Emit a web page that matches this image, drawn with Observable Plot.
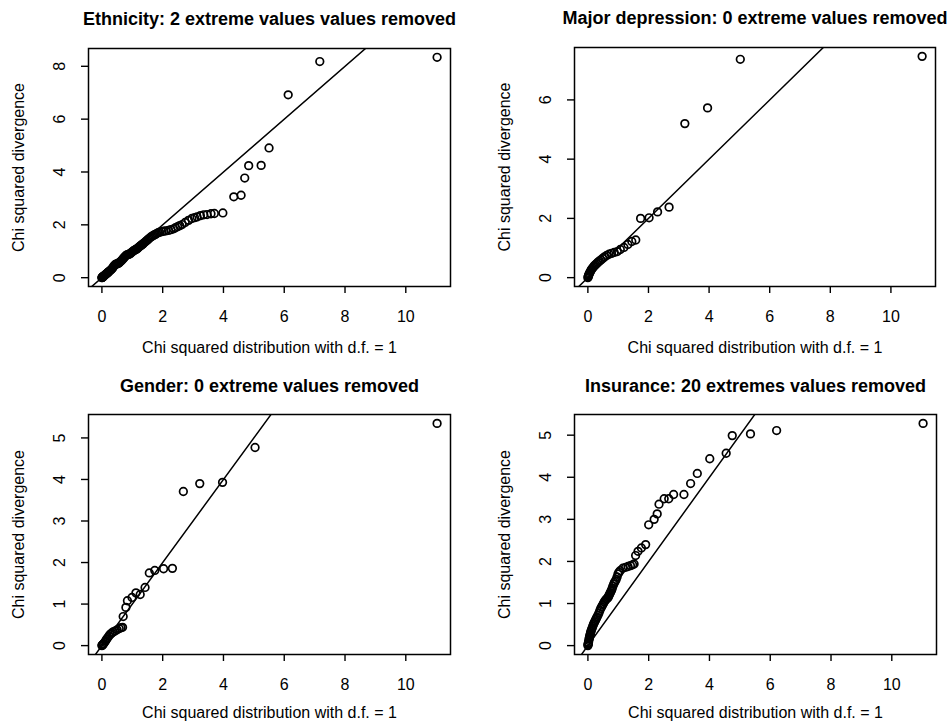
<!DOCTYPE html>
<html><head><meta charset="utf-8">
<script src="https://cdn.jsdelivr.net/npm/d3@7"></script>
<script src="https://cdn.jsdelivr.net/npm/@observablehq/plot@0.6"></script>
<style>
html,body{margin:0;padding:0;background:#fff;}
#root{position:relative;width:951px;height:725px;overflow:hidden;background:#fff;}
.panel{position:absolute;}
.panel svg{display:block;}
</style></head><body><div id="root"></div>
<script>
// ---- data ----
const titles = [
  "Ethnicity: 2 extreme values values removed",
  "Major depression: 0 extreme values removed",
  "Gender: 0 extreme values removed",
  "Insurance: 20 extremes values removed"
];
const xLabel = "Chi squared distribution with d.f. = 1";
const yLabel = "Chi squared divergence";
const xTicks = [0, 2, 4, 6, 8, 10];
const yTicksEthnicity = [0, 2, 4, 6, 8];
const yTicksDepression = [0, 2, 4, 6];
const yTicksGender = [0, 1, 2, 3, 4, 5];
const yTicksInsurance = [0, 1, 2, 3, 4, 5];

const ethX = [0.00,0.005,0.01,0.02,0.03,0.04,0.05,0.06,0.08,0.10,
  0.12,0.14,0.16,0.18,0.20,0.22,0.25,0.28,0.31,0.34,
  0.37,0.40,0.43,0.46,0.49,0.52,0.55,0.58,0.61,0.64,
  0.67,0.70,0.73,0.76,0.79,0.82,0.85,0.88,0.91,0.94,
  0.97,1.00,1.03,1.06,1.09,1.12,1.15,1.18,1.21,1.24,
  1.27,1.30,1.33,1.36,1.40,1.44,1.48,1.52,1.56,1.60,
  1.64,1.68,1.72,1.76,1.80,1.85,1.90,
  1.97,2.03,2.10,2.19,2.27,2.36,2.42,2.49,2.56,2.64,
  2.74,2.85,2.96,3.05,3.13,3.24,3.35,3.46,3.59,3.70,
  3.98,4.34,4.58,4.70,4.83,5.24,5.50,6.13,7.17,11.03];
const ethY = [0.00,0.005,0.01,0.02,0.03,0.04,0.05,0.06,0.08,0.10,
  0.12,0.14,0.16,0.18,0.20,0.22,0.25,0.28,0.31,0.35,
  0.40,0.45,0.49,0.51,0.52,0.53,0.55,0.58,0.61,0.64,
  0.68,0.72,0.76,0.80,0.84,0.86,0.87,0.88,0.90,0.92,
  0.95,0.98,1.01,1.03,1.05,1.07,1.09,1.12,1.15,1.18,
  1.21,1.23,1.26,1.29,1.33,1.37,1.41,1.45,1.49,1.53,
  1.56,1.59,1.62,1.64,1.67,1.70,1.72,
  1.74,1.76,1.77,1.79,1.82,1.85,1.89,1.93,1.97,2.01,
  2.09,2.17,2.24,2.27,2.30,2.35,2.38,2.39,2.42,2.43,
  2.45,3.06,3.12,3.77,4.24,4.25,4.91,6.92,8.18,8.34];

const depX = [0.00,0.01,0.02,0.03,0.04,0.06,0.08,0.10,0.12,0.15,0.18,0.21,0.25,0.29,0.33,0.38,0.43,0.49,0.55,0.62,0.70,0.78,0.87,0.97,1.07,1.19,1.32,1.45,1.58,1.74,2.02,2.30,2.68,3.20,3.95,5.03,11.03];
const depY = [0.00,0.03,0.06,0.09,0.12,0.16,0.20,0.24,0.28,0.32,0.36,0.40,0.44,0.48,0.52,0.56,0.60,0.65,0.70,0.75,0.79,0.82,0.85,0.88,0.95,1.02,1.12,1.22,1.27,2.00,2.02,2.22,2.38,5.20,5.73,7.37,7.47];

const genX = [0.00,0.01,0.02,0.04,0.06,0.09,0.12,0.15,0.19,0.23,0.27,0.32,0.37,0.43,0.50,0.57,0.63,0.68,0.70,0.79,0.84,0.99,1.12,1.26,1.42,1.56,1.74,2.03,2.32,2.68,3.22,3.97,5.04,11.03];
const genY = [0.00,0.01,0.02,0.03,0.05,0.08,0.11,0.15,0.19,0.23,0.27,0.30,0.33,0.35,0.38,0.41,0.43,0.44,0.70,0.92,1.08,1.16,1.27,1.23,1.40,1.75,1.81,1.85,1.86,3.71,3.90,3.93,4.77,5.35];

const insX = [0.00,0.005,0.01,0.015,0.02,0.03,0.04,0.05,0.06,0.07,
  0.08,0.09,0.10,0.12,0.14,0.16,0.18,0.20,0.22,0.24,
  0.26,0.28,0.30,0.33,0.36,0.39,0.42,0.45,0.48,0.51,
  0.54,0.57,0.60,0.63,0.66,0.68,0.70,0.72,0.74,0.76,
  0.78,0.80,0.82,0.85,0.87,0.90,0.93,0.96,0.99,1.02,
  1.06,
  1.15,1.24,1.32,1.40,1.47,1.52,1.57,1.65,1.76,1.90,
  2.00,2.18,2.28,2.34,2.51,2.66,2.82,3.16,3.38,3.60,
  4.01,4.55,4.75,5.35,6.21,11.03];
const insY = [0.00,0.02,0.04,0.06,0.08,0.12,0.16,0.19,0.22,0.25,
  0.28,0.31,0.34,0.38,0.42,0.46,0.50,0.53,0.56,0.59,
  0.62,0.65,0.68,0.72,0.77,0.83,0.88,0.92,0.96,1.00,
  1.04,1.07,1.10,1.12,1.14,1.17,1.20,1.23,1.26,1.29,
  1.32,1.36,1.41,1.46,1.50,1.53,1.57,1.63,1.70,1.74,
  1.78,
  1.84,1.86,1.88,1.90,1.92,1.94,2.14,2.24,2.32,2.40,
  2.87,3.00,3.13,3.36,3.49,3.49,3.59,3.59,3.85,4.09,
  4.44,4.57,4.99,5.03,5.11,5.28];

// ---- layout ----
const FONT = "'Liberation Sans', Arial, Helvetica, sans-serif";
const panels = [
  {title: titles[0], xs: ethX, ys: ethY, yTicks: yTicksEthnicity, left: 0,   top: 0,   w: 476, h: 362, mL: 88, mR: 26, mT: 48, mB: 76, titleDy: -29.5, xlabDy: 61},
  {title: titles[1], xs: depX, ys: depY, yTicks: yTicksDepression, left: 476, top: 0,   w: 475, h: 362, mL: 98, mR: 16, mT: 47, mB: 76, titleDy: -29.5, xlabDy: 61},
  {title: titles[2], xs: genX, ys: genY, yTicks: yTicksGender,     left: 0,   top: 362, w: 476, h: 363, mL: 88, mR: 26, mT: 52, mB: 71, titleDy: -28,   xlabDy: 58},
  {title: titles[3], xs: insX, ys: insY, yTicks: yTicksInsurance,  left: 476, top: 362, w: 475, h: 363, mL: 98, mR: 15, mT: 52, mB: 71, titleDy: -28,   xlabDy: 58}
];

function padded(vals) {
  const [mn, mx] = d3.extent(vals);
  const r = mx - mn;
  return [mn - 0.04 * r, mx + 0.04 * r];
}

const root = document.getElementById("root");
for (const p of panels) {
  const pts = p.xs.map((x, i) => ({x, y: p.ys[i]}));
  const xDom = padded(p.xs);
  const yDom = padded(p.ys);
  const lo = Math.min(xDom[0], yDom[0]);
  const hi = Math.max(xDom[1], yDom[1]);
  const refLine = [{x: lo, y: lo}, {x: hi, y: hi}]; // y = x reference line
  const chart = Plot.plot({
    width: p.w, height: p.h,
    marginLeft: p.mL, marginRight: p.mR, marginTop: p.mT, marginBottom: p.mB,
    style: {fontFamily: FONT, fontSize: "16px", background: "transparent", color: "#000", overflow: "visible"},
    x: {domain: xDom},
    y: {domain: yDom},
    marks: [
      Plot.frame({stroke: "#000", strokeWidth: 1.5}),
      Plot.axisX({ticks: xTicks, tickSize: 7, tickFormat: () => "", label: null, stroke: "#000", strokeWidth: 1.4}),
      Plot.axisY({ticks: p.yTicks, tickSize: 7, tickFormat: () => "", label: null, stroke: "#000", strokeWidth: 1.4}),
      Plot.text(xTicks, {x: d => d, text: d => String(d), frameAnchor: "bottom", dy: 30.5, lineAnchor: "middle", fontSize: 16, fill: "#000"}),
      Plot.text(p.yTicks, {y: d => d, text: d => String(d), frameAnchor: "left", dx: -29, rotate: -90, textAnchor: "middle", lineAnchor: "middle", fontSize: 16, fill: "#000"}),
      Plot.text([xLabel], {text: d => d, frameAnchor: "bottom", dy: p.xlabDy, lineAnchor: "middle", fontSize: 16, fill: "#000"}),
      Plot.text([yLabel], {text: d => d, frameAnchor: "left", dx: -70, rotate: -90, textAnchor: "middle", lineAnchor: "middle", fontSize: 16, fill: "#000"}),
      Plot.text([p.title], {text: d => d, frameAnchor: "top", dy: p.titleDy, lineAnchor: "middle", fontSize: 18, fontWeight: "bold", fill: "#000"}),
      Plot.line(refLine, {x: "x", y: "y", stroke: "#000", strokeWidth: 1.5, clip: true}),
      Plot.dot(pts, {x: "x", y: "y", r: 3.8, stroke: "#000", strokeWidth: 1.7, fill: "none", symbol: "circle"})
    ]
  });
  const div = document.createElement("div");
  div.className = "panel";
  div.style.left = p.left + "px";
  div.style.top = p.top + "px";
  div.appendChild(chart);
  root.appendChild(div);
}
</script></body></html>
